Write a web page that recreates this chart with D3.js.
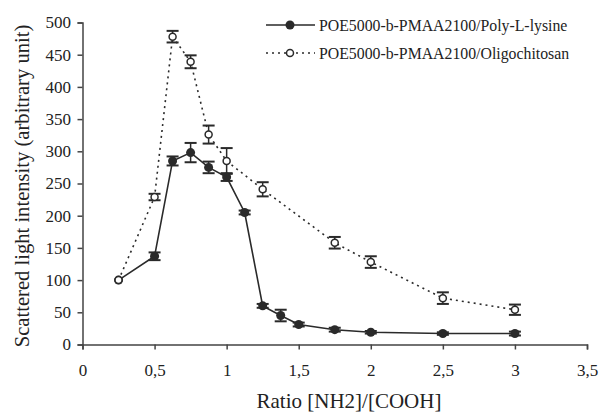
<!DOCTYPE html>
<html><head><meta charset="utf-8">
<script src="https://cdn.jsdelivr.net/npm/d3@7"></script>
<style>body{margin:0;background:#fff}svg{display:block}</style>
</head><body>
<svg id="c" width="600" height="416"></svg>
<script>
const lysineX = [0.25, 0.5, 0.625, 0.75, 0.875, 1, 1.125, 1.25, 1.375, 1.5, 1.75, 2, 2.5, 3];
const lysineY = [100, 137, 285, 298, 275, 260, 205, 60, 45, 31, 23, 19, 17, 17];
const lysineErr = [0, 6, 7, 15, 9, 6, 3, 3, 9, 3, 3, 2, 2, 3];
const chitoX = [0.25, 0.5, 0.625, 0.75, 0.875, 1, 1.25, 1.75, 2, 2.5, 3];
const chitoY = [100, 229, 478, 439, 326, 285, 241, 158, 128, 72, 54];
const chitoErr = [0, 5, 9, 10, 14, 20, 11, 9, 9, 9, 8];
const xTicks = [0, 0.5, 1, 1.5, 2, 2.5, 3, 3.5];
const yTicks = [0, 50, 100, 150, 200, 250, 300, 350, 400, 450, 500];
const seriesNames = ["POE5000-b-PMAA2100/Poly-L-lysine", "POE5000-b-PMAA2100/Oligochitosan"];

const svg = d3.select("#c");
const font = "Liberation Serif";
const x = d3.scaleLinear().domain([0, 3.5]).range([82.5, 587]);
const y = d3.scaleLinear().domain([0, 500]).range([344.5, 22.5]);
const ink = "#2a2a2a";

const xa = svg.append("g").attr("transform", `translate(0,${y(0)})`)
  .call(d3.axisBottom(x).tickValues(xTicks).tickSize(5).tickPadding(14)
    .tickFormat(d => String(d).replace(".", ",")));
const ya = svg.append("g").attr("transform", `translate(${x(0)},0)`)
  .call(d3.axisLeft(y).tickValues(yTicks).tickSize(5).tickPadding(6.5));
[xa, ya].forEach(a => {
  a.attr("font-family", null).attr("font-size", null);
  a.selectAll("path,line").attr("stroke", "#444").attr("stroke-width", 1.5);
  a.selectAll("text").style("font-family", font).style("font-size", "17px").attr("fill", "#222");
});

svg.append("text").attr("x", 349).attr("y", 408).attr("text-anchor", "middle")
  .style("font-family", font).style("font-size", "21px").attr("fill", "#222").text("Ratio [NH2]/[COOH]");
svg.append("text").attr("transform", `translate(29,186) rotate(-90)`).attr("text-anchor", "middle")
  .style("font-family", font).style("font-size", "20.6px").attr("fill", "#222").text("Scattered light intensity (arbitrary unit)");

const line = d3.line().x(d => x(d[0])).y(d => y(d[1]));
const lys = lysineX.map((v, i) => [v, lysineY[i], lysineErr[i]]);
const chi = chitoX.map((v, i) => [v, chitoY[i], chitoErr[i]]);

function errBars(data) {
  const g = svg.append("g").attr("stroke", ink).attr("stroke-width", 1.5);
  data.filter(d => d[2] > 0).forEach(d => {
    const cx = x(d[0]);
    g.append("line").attr("x1", cx).attr("x2", cx).attr("y1", y(d[1] - d[2])).attr("y2", y(d[1] + d[2]));
    [d[1] - d[2], d[1] + d[2]].forEach(v =>
      g.append("line").attr("x1", cx - 6).attr("x2", cx + 6).attr("y1", y(v)).attr("y2", y(v)).attr("stroke-width", 2));
  });
}

svg.append("path").datum(chi).attr("d", line).attr("fill", "none").attr("stroke", ink)
  .attr("stroke-width", 1.6).attr("stroke-dasharray", "2,4");
svg.append("path").datum(lys).attr("d", line).attr("fill", "none").attr("stroke", ink).attr("stroke-width", 1.6);
errBars(lys);
errBars(chi);
svg.append("g").selectAll("circle").data(lys).join("circle")
  .attr("cx", d => x(d[0])).attr("cy", d => y(d[1])).attr("r", 4.5).attr("fill", ink);
svg.append("g").selectAll("circle").data(chi).join("circle")
  .attr("cx", d => x(d[0])).attr("cy", d => y(d[1])).attr("r", 3.5).attr("fill", "#fff")
  .attr("stroke", ink).attr("stroke-width", 1.5);

// legend
const leg = svg.append("g");
[0, 1].forEach(i => {
  const ly = 25 + i * 28;
  leg.append("line").attr("x1", 266).attr("x2", 315).attr("y1", ly).attr("y2", ly)
    .attr("stroke", ink).attr("stroke-width", 1.6).attr("stroke-dasharray", i ? "2,4" : null);
  if (i === 0) leg.append("circle").attr("cx", 290).attr("cy", ly).attr("r", 4.5).attr("fill", ink);
  else leg.append("circle").attr("cx", 290).attr("cy", ly).attr("r", 3.5).attr("fill", "#fff").attr("stroke", ink).attr("stroke-width", 1.5);
  leg.append("text").attr("x", 319).attr("y", ly + 5.5).style("font-family", font).style("font-size", "15.8px")
    .attr("fill", "#222").text(seriesNames[i]);
});
</script>
</body></html>
